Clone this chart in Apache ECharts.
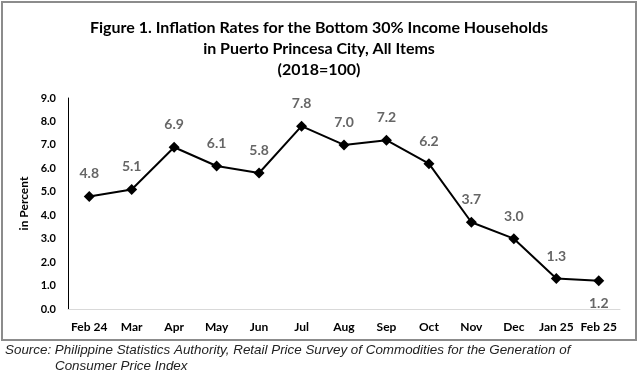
<!DOCTYPE html>
<html>
<head>
<meta charset="utf-8">
<script src="https://cdn.jsdelivr.net/npm/echarts@6/dist/echarts.min.js"></script>
<style>
  html, body { margin: 0; padding: 0; background: #fff; }
  #chart { width: 638px; height: 376px; }
</style>
</head>
<body>
<div id="chart"></div>
<script>
const months = ['Feb 24', 'Mar', 'Apr', 'May', 'Jun', 'Jul', 'Aug', 'Sep', 'Oct', 'Nov', 'Dec', 'Jan 25', 'Feb 25']
const rates = [4.8, 5.1, 6.9, 6.1, 5.8, 7.8, 7.0, 7.2, 6.2, 3.7, 3.0, 1.3, 1.2]
const yTicks = { min: 0, max: 9, interval: 1 }

const chart = echarts.init(document.getElementById('chart'), null, { renderer: 'canvas' })

const option = {
  animation: false,
  title: {
    text: 'Figure 1. Inflation Rates for the Bottom 30% Income Households\nin Puerto Princesa City, All Items\n(2018=100)',
    left: 'center',
    top: 12,
    textStyle: {
      fontFamily: 'Lato',
      fontWeight: 'bold',
      fontSize: 16,
      lineHeight: 21,
      color: '#000'
    }
  },
  graphic: [
    {
      type: 'rect',
      shape: { x: 2, y: 2, width: 634, height: 338 },
      style: { fill: 'none', stroke: '#8c8c8c', lineWidth: 2 },
      z: -1
    },
    {
      type: 'text',
      left: 5,
      top: 344,
      style: {
        text: 'Source: Philippine Statistics Authority, Retail Price Survey of Commodities for the Generation of',
        font: 'italic 13.4px "Liberation Sans"',
        fill: '#222'
      }
    },
    {
      type: 'text',
      left: 55,
      top: 360,
      style: {
        text: 'Consumer Price Index',
        font: 'italic 13.4px "Liberation Sans"',
        fill: '#222'
      }
    }
  ],
  grid: { left: 68, right: 18, top: 98, bottom: 67 },
  xAxis: {
    type: 'category',
    data: months,
    axisLine: { lineStyle: { color: '#d9d9d9', width: 1 } },
    axisTick: { show: false },
    axisLabel: {
      interval: 0,
      fontFamily: 'Lato',
      fontWeight: 'bold',
      fontSize: 12,
      color: '#000',
      margin: 12
    }
  },
  yAxis: {
    type: 'value',
    min: yTicks.min,
    max: yTicks.max,
    interval: yTicks.interval,
    name: 'in Percent',
    nameLocation: 'middle',
    nameGap: 30,
    nameTextStyle: { fontFamily: 'Lato', fontWeight: 'bold', fontSize: 12, color: '#000' },
    axisLine: { show: true, lineStyle: { color: '#000', width: 1 } },
    axisTick: { show: false },
    splitLine: { show: false },
    axisLabel: {
      fontFamily: 'Lato',
      fontWeight: 'bold',
      fontSize: 11,
      color: '#000',
      margin: 12,
      formatter: v => v.toFixed(1)
    }
  },
  series: [
    {
      type: 'line',
      data: rates.map((v, i) => ({
        value: v,
        label: i === rates.length - 1 ? { position: 'bottom', distance: 10 } : undefined
      })),
      symbol: 'diamond',
      symbolSize: 11,
      itemStyle: { color: '#000' },
      lineStyle: { color: '#000', width: 2 },
      label: {
        show: true,
        position: 'top',
        distance: 10,
        fontFamily: 'Lato',
        fontWeight: 'bold',
        fontSize: 14,
        color: '#666',
        formatter: p => p.value.toFixed(1)
      }
    }
  ]
}

chart.setOption(option)
window.addEventListener('resize', () => chart.resize())
</script>
</body>
</html>
